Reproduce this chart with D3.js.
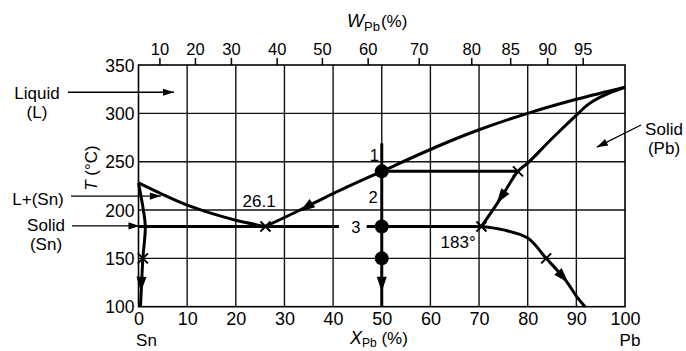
<!DOCTYPE html>
<html>
<head>
<meta charset="utf-8">
<script src="https://cdn.jsdelivr.net/npm/d3@7"></script>
<style>
  html, body { margin: 0; padding: 0; background: #fff; }
  svg { display: block; }
  text { font-family: "Liberation Sans", Arial, Helvetica, sans-serif; fill: #000; }
</style>
</head>
<body>
<svg id="chart" width="686" height="351"></svg>
<script>
// ---------------- DATA ----------------
const xDomain = [0, 100];          // X_Pb (%)
const tDomain = [100, 350];        // T (°C)
const xTicks = [0, 10, 20, 30, 40, 50, 60, 70, 80, 90, 100];
const tTicks = [100, 150, 200, 250, 300, 350];
const wTickLabels = [10, 20, 30, 40, 50, 60, 70, 80, 85, 90, 95];        // W_Pb (%)
const wTickPosX = [4.3, 11.6, 19.0, 28.4, 37.7, 47.1, 57.6, 68.4, 76.4, 84.0, 91.3]; // at X_Pb (%)

// phase boundaries [X_Pb, T]
const liquidusSn = [[0, 228], [5, 216], [10, 205], [15, 196.5], [20, 189.5], [26.1, 183]];
const solidusSn = [[0, 228], [1.0, 200], [1.4, 183], [0.9, 150], [0.6, 120], [0.4, 100]];
const liquidusPb = [[26.1, 183], [33, 199.5], [40, 217], [50, 240], [62, 267], [70, 283], [80, 300], [90, 314.5], [100, 327]];
const solidusPb = [[100, 327], [97.5, 322.5], [95, 317], [92.5, 309.5], [90.4, 300], [85, 274], [80.1, 249], [78, 240], [74.3, 211], [70.5, 183]];
const solvusPb = [[70.5, 183], [75, 179.5], [80, 171], [83.8, 150], [86, 138], [88, 126], [90, 111], [91.8, 100]];
const eutecticSegs = [[[0, 183], [41.2, 183]], [[46.9, 183], [70.5, 183]]];
const coolingPath = [[50, 269], [50, 100]];
const tieLine = [[50, 240], [78, 240]];
const dots = [[50, 240], [50, 183], [50, 150]];
const crosses = [[26.1, 183], [78, 240], [83.8, 150], [0.9, 150], [70.5, 183]];
// arrows: [from, tip]
const curveArrows = [
  [[37, 211.5], [33.2, 198.5]],
  [[76.2, 225], [73.6, 207]],
  [[85.6, 140], [88.3, 125]],
  [[50, 131], [50, 115.5]],
  [[0.62, 131], [0.5, 115.5]]
];
const pointNumbers = [{t: "1", x: 48.5, T: 251}, {t: "2", x: 48.2, T: 207}, {t: "3", x: 44.7, T: 176.5}];
const valueLabels = [{t: "26.1", x: 24.8, T: 203.5}, {t: "183°", x: 65.7, T: 161}];

// ---------------- SCALES ----------------
const svg = d3.select("#chart");
const x = d3.scaleLinear().domain(xDomain).range([138.5, 625]);
const y = d3.scaleLinear().domain(tDomain).range([306.7, 65]);

// ---------------- GRID ----------------
const g = svg.append("g");
g.selectAll("line.vg").data(xTicks.slice(1, -1)).join("line")
  .attr("x1", d => x(d)).attr("x2", d => x(d))
  .attr("y1", y(350)).attr("y2", y(100))
  .attr("stroke", "#111").attr("stroke-width", 1.4);
g.selectAll("line.hg").data(tTicks.slice(1, -1)).join("line")
  .attr("y1", d => y(d)).attr("y2", d => y(d))
  .attr("x1", x(0)).attr("x2", x(100))
  .attr("stroke", "#111").attr("stroke-width", 1.4);
g.append("rect")
  .attr("x", x(0)).attr("y", y(350))
  .attr("width", x(100) - x(0)).attr("height", y(100) - y(350))
  .attr("fill", "none").attr("stroke", "#000").attr("stroke-width", 1.6);

// ---------------- AXES ----------------
const bottomAxis = d3.axisBottom(x).tickValues(xTicks).tickSize(0).tickPadding(0);
const ba = svg.append("g").attr("transform", `translate(0,${y(100)})`).call(bottomAxis);
ba.select(".domain").remove();
ba.selectAll("text").attr("dy", null).attr("y", 18)
  .style("font-size", "18px").attr("fill", "#000");

const leftAxis = d3.axisLeft(y).tickValues(tTicks).tickSize(0).tickPadding(0);
const la = svg.append("g").attr("transform", `translate(${x(0) - 4},0)`).call(leftAxis);
la.select(".domain").remove();
la.selectAll("text").attr("x", 0).attr("dy", "0.35em")
  .style("font-size", "17.5px").attr("fill", "#000");

const wScale = d3.scaleOrdinal().domain(wTickLabels).range(wTickPosX.map(v => x(v)));
const topAxis = d3.axisTop(wScale).tickSize(7).tickPadding(3);
const ta = svg.append("g").attr("transform", `translate(0,${y(350)})`).call(topAxis);
ta.select(".domain").remove();
ta.selectAll(".tick line").attr("stroke", "#000").attr("stroke-width", 1.5);
ta.selectAll("text").style("font-size", "16.5px").attr("fill", "#000");

// axis titles
const topTitle = svg.append("text").attr("x", 347).attr("y", 27).style("font-size", "18px");
topTitle.append("tspan").text("W").style("font-style", "italic");
topTitle.append("tspan").text("Pb").style("font-size", "13px").attr("dy", 4);
topTitle.append("tspan").text("(%)").style("font-size", "17px").attr("dy", -4).attr("dx", 1);

const botTitle = svg.append("text").attr("x", 350).attr("y", 344).style("font-size", "18px");
botTitle.append("tspan").text("X").style("font-style", "italic");
botTitle.append("tspan").text("Pb").style("font-size", "12px").attr("dy", 3);
botTitle.append("tspan").text(" (%)").style("font-size", "17px").attr("dy", -3);

const tTitle = svg.append("text").attr("transform", "translate(97,168) rotate(-90)")
  .attr("text-anchor", "middle").style("font-size", "17px");
tTitle.append("tspan").text("T").style("font-style", "italic");
tTitle.append("tspan").text(" (°C)");

svg.append("text").attr("x", x(0) + 8).attr("y", 346).attr("text-anchor", "middle").style("font-size", "17px").text("Sn");
svg.append("text").attr("x", x(100) + 5).attr("y", 346).attr("text-anchor", "middle").style("font-size", "17px").text("Pb");

// ---------------- CURVES ----------------
const line = d3.line().x(d => x(d[0])).y(d => y(d[1])).curve(d3.curveCatmullRom.alpha(0.5));
const straight = d3.line().x(d => x(d[0])).y(d => y(d[1]));
const curves = svg.append("g").attr("fill", "none").attr("stroke", "#000")
  .attr("stroke-width", 3).attr("stroke-linejoin", "round");
[liquidusSn, solidusSn, liquidusPb, solidusPb, solvusPb].forEach(c => curves.append("path").attr("d", line(c)));
eutecticSegs.forEach(s => curves.append("path").attr("d", straight(s)));
curves.append("path").attr("d", straight(coolingPath));
curves.append("path").attr("d", straight(tieLine));

// arrowheads
function arrowHead(fromPx, tipPx, len, half) {
  const dx = tipPx[0] - fromPx[0], dy = tipPx[1] - fromPx[1];
  const L = Math.hypot(dx, dy), ux = dx / L, uy = dy / L;
  const bx = tipPx[0] - ux * len, by = tipPx[1] - uy * len;
  const px = -uy, py = ux;
  return `M${tipPx[0]},${tipPx[1]}L${bx + px * half},${by + py * half}L${bx - px * half},${by - py * half}Z`;
}
svg.append("g").selectAll("path").data(curveArrows).join("path")
  .attr("d", d => arrowHead([x(d[0][0]), y(d[0][1])], [x(d[1][0]), y(d[1][1])], 15, 5))
  .attr("fill", "#000");

// dots and crosses
svg.append("g").selectAll("circle").data(dots).join("circle")
  .attr("cx", d => x(d[0])).attr("cy", d => y(d[1])).attr("r", 7).attr("fill", "#000");
svg.append("g").selectAll("path").data(crosses).join("path")
  .attr("d", d => { const cx = x(d[0]), cy = y(d[1]), s = 5;
    return `M${cx - s},${cy - s}L${cx + s},${cy + s}M${cx - s},${cy + s}L${cx + s},${cy - s}`; })
  .attr("stroke", "#000").attr("stroke-width", 2).attr("fill", "none");

// numbers
svg.append("g").selectAll("text").data(pointNumbers).join("text")
  .attr("x", d => x(d.x)).attr("y", d => y(d.T)).attr("text-anchor", "middle")
  .style("font-size", "16.5px").text(d => d.t);
svg.append("g").selectAll("text").data(valueLabels).join("text")
  .attr("x", d => x(d.x)).attr("y", d => y(d.T)).attr("text-anchor", "middle")
  .style("font-size", "17px").text(d => d.t);

// ---------------- REGION LABELS ----------------
function label(lines, cx, baselines) {
  lines.forEach((t, i) => svg.append("text").attr("x", cx).attr("y", baselines[i])
    .attr("text-anchor", "middle").style("font-size", "17px").text(t));
}
label(["Liquid", "(L)"], 37, [99, 118]);
label(["L+(Sn)"], 38, [205]);
label(["Solid", "(Sn)"], 46, [231, 250]);
label(["Solid", "(Pb)"], 664, [135, 154]);

const pointer = svg.append("g");
function pointerArrow(x1, y1, tipPx) {
  pointer.append("line").attr("x1", x1).attr("y1", y1).attr("x2", tipPx[0]).attr("y2", tipPx[1])
    .attr("stroke", "#000").attr("stroke-width", 1.3);
  pointer.append("path").attr("d", arrowHead([x1, y1], tipPx, 11, 3.6)).attr("fill", "#000");
}
pointerArrow(68, y(321.8), [x(7.3), y(321.8)]);
pointerArrow(71, y(214.4), [x(4.6), y(214.4)]);
pointerArrow(72, y(183.5), [x(0.2), y(183.5)]);
pointerArrow(641, 125, [x(94.2), y(265)]);
</script>
</body>
</html>
